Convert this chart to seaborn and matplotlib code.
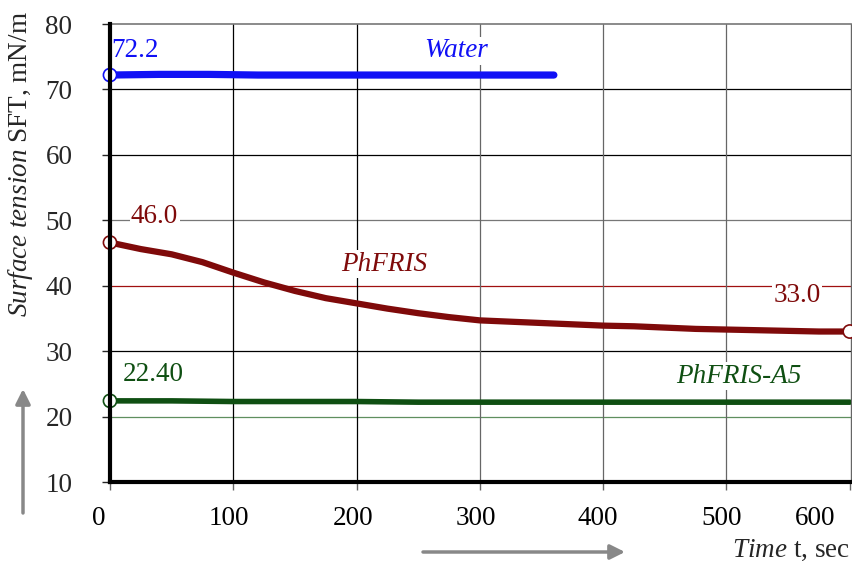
import pandas as pd
import matplotlib.pyplot as plt
import matplotlib.transforms as mtransforms
import seaborn as sns

# data
time_water = [0, 40, 80, 120, 160, 200, 240, 280, 320, 360]
sft_water = [72.2, 72.3, 72.3, 72.2, 72.2, 72.2, 72.2, 72.2, 72.2, 72.2]

time_phfris = [0, 25, 50, 75, 100, 125, 150, 175, 200, 225, 250, 275, 300,
               325, 350, 375, 400, 425, 450, 475, 500, 525, 550, 575, 600]
sft_phfris = [46.6, 45.6, 44.8, 43.6, 42.0, 40.5, 39.2, 38.1, 37.3, 36.5, 35.8, 35.2, 34.7,
              34.5, 34.3, 34.1, 33.9, 33.8, 33.6, 33.4, 33.3, 33.2, 33.1, 33.0, 33.0]

time_a5 = [0, 50, 100, 150, 200, 250, 300, 350, 400, 450, 500, 550, 600]
sft_a5 = [22.4, 22.4, 22.3, 22.3, 22.3, 22.2, 22.2, 22.2, 22.2, 22.2, 22.2, 22.2, 22.2]

y_ticks = [10, 20, 30, 40, 50, 60, 70, 80]
x_ticks = [0, 100, 200, 300, 400, 500, 600]

BLUE = '#1010f5'
RED = '#7f0a0a'
GREEN = '#0f4f12'
FS = 19.5

sns.set_style('white')
plt.rcParams['font.family'] = ['Liberation Serif', 'DejaVu Serif']
plt.rcParams['mathtext.fontset'] = 'custom'
plt.rcParams['mathtext.rm'] = 'Liberation Serif'
plt.rcParams['mathtext.it'] = 'Liberation Serif:italic'

fig = plt.figure(figsize=(8.52, 5.61), dpi=100)
ax = fig.add_axes([110 / 852, 1 - 482 / 561, 741 / 852, 458 / 561])

# grid, drawn by hand so each line can get its own colour
h_colors = {20: '#5f8f5f', 30: 'black', 40: '#a01010', 50: '#777777', 60: 'black', 70: 'black'}
for yv, c in h_colors.items():
    ax.axhline(yv, color=c, lw=0.9, zorder=1)
v_colors = {100: 'black', 200: 'black', 300: '#666666', 400: '#666666', 500: '#666666'}
for xv, c in v_colors.items():
    ax.axvline(xv, color=c, lw=0.9, zorder=1)

df_w = pd.DataFrame({'t': time_water, 'sft': sft_water})
df_p = pd.DataFrame({'t': time_phfris, 'sft': sft_phfris})
df_a = pd.DataFrame({'t': time_a5, 'sft': sft_a5})

sns.lineplot(data=df_w, x='t', y='sft', color=BLUE, lw=5.2, ax=ax, zorder=3,
             solid_capstyle='round')
sns.lineplot(data=df_p, x='t', y='sft', color=RED, lw=4.5, ax=ax, zorder=3,
             solid_capstyle='round')
sns.lineplot(data=df_a, x='t', y='sft', color=GREEN, lw=4.0, ax=ax, zorder=3)

# open circles at start (and end of PhFRIS)
ends = pd.DataFrame({'t': [time_water[0], time_phfris[0], time_phfris[-1], time_a5[0]],
                     'sft': [sft_water[0], sft_phfris[0], sft_phfris[-1], sft_a5[0]]})
edge_cols = [BLUE, RED, RED, GREEN]
sns.scatterplot(data=ends, x='t', y='sft', marker='o', s=90, facecolor='white',
                edgecolor=edge_cols, linewidth=1.2, ax=ax, zorder=5, clip_on=False)

# labels
box = dict(facecolor='white', edgecolor='none', pad=1)
ax.text(1, 75.9, '72.2', color=BLUE, fontsize=FS, ha='left', va='center', zorder=4)
ax.text(281, 75.9, 'Water', color=BLUE, fontsize=FS, style='italic', ha='center', va='center',
        bbox=box, zorder=4)
ax.text(17, 50.6, '46.0', color=RED, fontsize=FS, ha='left', va='center', bbox=box, zorder=4)
ax.text(222, 43.3, 'PhFRIS', color=RED, fontsize=FS, style='italic', ha='center', va='center',
        bbox=box, zorder=4)
ax.text(557, 38.5, '33.0', color=RED, fontsize=FS, ha='center', va='center', bbox=box, zorder=4)
ax.text(510, 26.2, 'PhFRIS-A5', color=GREEN, fontsize=FS, style='italic', ha='center',
        va='center', bbox=box, zorder=4)
ax.text(10.5, 26.4, '22.40', color=GREEN, fontsize=FS, ha='left', va='center', zorder=4)

ax.set_xlim(0, 601)
ax.set_ylim(10, 80)
ax.set_xticks(x_ticks)
ax.set_yticks(y_ticks)
ax.set_xlabel('')
ax.set_ylabel(r'$\it{Surface\ tension}$ SFT, mN/m', fontsize=FS)
ax.yaxis.label.set_va('center')
ax.yaxis.set_label_coords(-0.121, 0.695)
ax.tick_params(axis='y', which='major', direction='out', length=6, width=1, labelsize=FS,
               pad=21, left=True)
ax.tick_params(axis='x', which='major', direction='out', length=6, width=1, labelsize=FS,
               pad=11, bottom=True, colors='#666666', labelcolor='black')

# nudge x tick labels like in the reference
x_shift = [-11, -4, -4, -4, -5, -5, -35]
for lab, dx in zip(ax.get_xticklabels(), x_shift):
    lab.set_transform(lab.get_transform() + mtransforms.ScaledTranslation(dx / 100, 0, fig.dpi_scale_trans))

for side in ['left', 'bottom']:
    ax.spines[side].set_color('black')
    ax.spines[side].set_linewidth(3.0)
    ax.spines[side].set_zorder(6)
ax.spines['top'].set_color('#777777')
ax.spines['top'].set_linewidth(1.2)
ax.spines['right'].set_color('#666666')
ax.spines['right'].set_linewidth(1.0)

fig.text(850 / 852, 1 - 550 / 561, r'$\it{Time}$ t, sec', fontsize=FS, ha='right', va='center')

# grey direction arrows
arrow = dict(arrowstyle='-|>', color='#888888', lw=2.5, mutation_scale=22, shrinkA=0, shrinkB=0)
ax.annotate('', xy=(625, 9), xytext=(423, 9), xycoords='figure pixels',
            textcoords='figure pixels', arrowprops=arrow, annotation_clip=False)
ax.annotate('', xy=(23, 172), xytext=(23, 48), xycoords='figure pixels',
            textcoords='figure pixels', arrowprops=arrow, annotation_clip=False)

plt.savefig('out.png', dpi=100)
plt.close()
